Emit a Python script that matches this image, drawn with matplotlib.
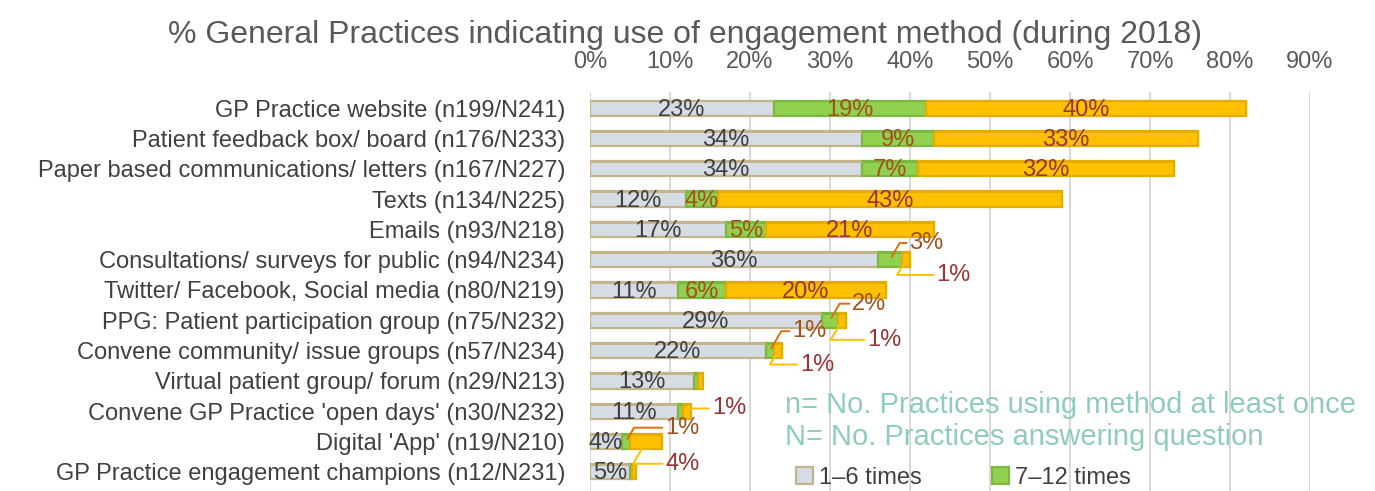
import numpy as np
import matplotlib.pyplot as plt

plt.rcParams['font.family'] = ['Liberation Sans', 'DejaVu Sans']

# Data (% of practices)
categories = [
    "GP Practice website (n199/N241)",
    "Patient feedback box/ board (n176/N233)",
    "Paper based communications/ letters (n167/N227)",
    "Texts (n134/N225)",
    "Emails (n93/N218)",
    "Consultations/ surveys for public (n94/N234)",
    "Twitter/ Facebook, Social media (n80/N219)",
    "PPG: Patient participation group (n75/N232)",
    "Convene community/ issue groups (n57/N234)",
    "Virtual patient group/ forum (n29/N213)",
    "Convene GP Practice 'open days' (n30/N232)",
    "Digital 'App' (n19/N210)",
    "GP Practice engagement champions (n12/N231)",
]
times_1_6 = [23, 34, 34, 12, 17, 36, 11, 29, 22, 13, 11, 4, 5]
times_7_12 = [19, 9, 7, 4, 5, 3, 6, 2, 1, 0.5, 0.6, 1, 0.2]
times_12_plus = [40, 33, 32, 43, 21, 1, 20, 1, 1, 0.6, 1, 4, 0.5]
series_names = ["1–6 times", "7–12 times", "More than 12 times"]
xticks = [0, 10, 20, 30, 40, 50, 60, 70, 80, 90]

# labels shown outside the bar, with leader lines: (row, series) -> (dx, dy) offset in points
outside = {
    (5, 1): (14, 12), (5, 2): (22, -11),
    (7, 1): (16, 12), (7, 2): (18, -14),
    (8, 1): (16, 14), (8, 2): (16, -10),
    (10, 2): (18, 2),
    (11, 1): (28, 10), (11, 2): (14, -16),
}
hidden = {(9, 1), (9, 2), (10, 1), (12, 1), (12, 2)}

fill = ["#D6DCE4", "#92D050", "#FFC000"]
edge = ["#C4B48C", "#7DB83E", "#E5AC00"]
label_col = ["#404040", "#A0521E", "#953735"]
line_col = ["#404040", "#E46C0A", "#FFC000"]

fig = plt.figure(figsize=(13.75, 4.91), dpi=100)
ax = fig.add_axes([590 / 1375, 0.0, 720 / 1375, 0.8126])

y = np.arange(len(categories))
vals = [times_1_6, times_7_12, times_12_plus]
left = np.zeros(len(categories))
for s in range(3):
    v = np.array(vals[s], dtype=float)
    ax.barh(y, v, left=left, height=0.5, color=fill[s], edgecolor=edge[s],
            linewidth=1.6, label=series_names[s], zorder=3)
    # darker top strip for a little depth
    ax.barh(y - 0.22, v, left=left, height=0.07, color=edge[s], linewidth=0, zorder=4)
    for i in range(len(categories)):
        if (i, s) in hidden:
            continue
        txt = f"{vals[s][i]:.0f}%"
        cx = left[i] + v[i] / 2
        if (i, s) in outside:
            dx, dy = outside[(i, s)]
            ax.annotate(txt, xy=(cx, y[i]), xytext=(dx, dy), textcoords='offset points',
                        ha='left', va='center', fontsize=17, color=label_col[s],
                        arrowprops=dict(arrowstyle='-', color=line_col[s], lw=1.4,
                                        shrinkA=0, shrinkB=2, relpos=(0, 0.5),
                                        connectionstyle='angle,angleA=0,angleB=60,rad=0'),
                        zorder=6)
        else:
            ax.text(cx, y[i] + 0.05, txt, ha='center', va='center', fontsize=17,
                    color=label_col[s], zorder=6)
    left += v

ax.set_xlim(0, 90)
ax.set_ylim(12.63, -0.53)
ax.set_yticks(y)
ax.set_yticklabels(categories, fontsize=17, color="#404040")
ax.set_xticks(xticks)
ax.set_xticklabels([f"{t}%" for t in xticks], fontsize=17, color="#595959")
ax.xaxis.tick_top()
ax.tick_params(axis='x', length=0, pad=14)
ax.tick_params(axis='y', length=0, pad=18)
ax.grid(axis='x', color="#D9D9D9", linewidth=1.5, zorder=0)
for sp in ax.spines.values():
    sp.set_visible(False)

fig.text(685 / 1375, 1 - 35 / 491,
         "% General Practices indicating use of engagement method (during 2018)",
         ha='center', va='center', fontsize=23, color="#595959")
fig.text(785 / 1375, 1 - 405 / 491, "n= No. Practices using method at least once",
         ha='left', va='center', fontsize=21, color="#8FCBC0")
fig.text(785 / 1375, 1 - 437 / 491, "N= No. Practices answering question",
         ha='left', va='center', fontsize=21, color="#8FCBC0")

handles, labels = ax.get_legend_handles_labels()
fig.legend(handles[:2], labels[:2], loc='center left',
           bbox_to_anchor=(775 / 1375, 1 - 478 / 491), ncol=2, frameon=False,
           fontsize=17, labelcolor="#404040", handlelength=0.7, handleheight=0.7,
           handletextpad=0.25, columnspacing=3.0)

fig.savefig("out.png", dpi=100)
